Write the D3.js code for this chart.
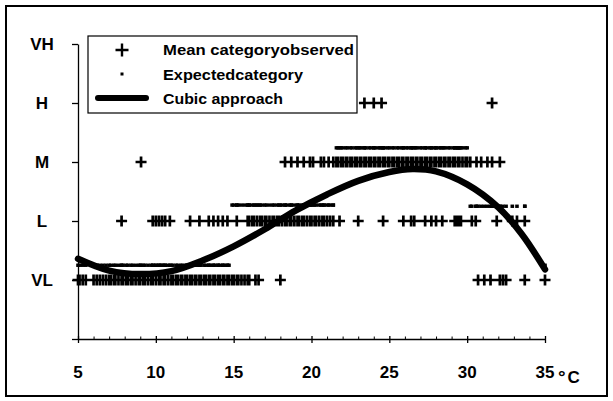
<!DOCTYPE html>
<html><head><meta charset="utf-8">
<script src="https://cdn.jsdelivr.net/npm/d3@7"></script>
<style>body{margin:0;background:#fff} svg{display:block}</style>
</head><body><svg id="c" width="613" height="401"></svg>
<script>
// ---- data ----
const categories = ["VL","L","M","H","VH"];
const categoryValues = [1,2,3,4,5];
const xTicks = [5,10,15,20,25,30,35];
const minorTicks = [6,7,8,9,11,12,13,14,16,17,18,19,21,22,23,24,26,27,28,29,31,32,33,34];

// observed mean category: temperatures per category row
const obsVL = [5.0,5.1,5.3,5.5,6.0,6.2,6.4,6.6,6.8,
  7.0,7.1,7.3,7.4,7.6,7.8,7.9,8.1,8.2,8.4,8.5,8.7,8.9,9.0,9.2,9.3,9.5,9.7,9.8,10.0,10.2,10.3,10.5,10.6,10.8,
  11.0,11.1,11.3,11.4,11.6,11.7,11.9,12.0,12.2,12.3,12.5,12.6,12.8,12.9,13.1,13.2,13.4,13.5,13.7,13.8,
  14.0,14.1,14.3,14.4,14.6,14.7,14.9,15.0,15.2,15.3,15.5,15.7,15.9,16.0,16.4,16.6,18.0,
  30.7,31.1,31.5,32.1,32.3,32.5,33.7,35.0];
const obsL = [7.8,9.8,10.0,10.2,10.4,10.6,10.9,12.2,12.8,13.4,13.7,14.0,14.3,14.6,15.2,
  15.9,16.0,16.2,16.3,16.5,16.7,16.8,17.0,17.1,17.3,17.5,17.6,17.8,17.9,18.1,18.3,18.4,18.6,18.7,18.9,
  19.1,19.2,19.4,19.5,19.7,19.9,20.0,20.2,20.3,20.5,20.7,20.8,21.0,21.2,21.4,
  21.8,23.0,24.6,25.9,26.4,26.6,27.3,27.7,28.0,28.4,29.2,29.3,29.4,29.5,29.6,30.3,30.55,31.9,32.9,33.2,33.7];
const obsM = [9.05,18.3,18.7,19.1,19.5,19.9,20.1,20.6,20.8,21.1,21.4,
  21.6,21.7,21.9,22.0,22.2,22.3,22.5,22.6,22.8,22.9,23.1,23.2,23.4,23.5,23.7,23.8,24.0,24.1,24.3,24.4,
  24.6,24.7,24.9,25.0,25.2,25.3,25.5,25.6,25.8,25.9,26.1,26.2,26.4,26.5,26.7,26.8,27.0,27.1,27.3,27.4,
  27.6,27.7,27.9,28.0,28.2,28.3,28.5,28.6,28.8,28.9,29.1,29.2,29.4,29.5,29.7,29.9,30.0,30.2,
  30.6,30.9,31.3,31.6,32.1];
const obsH = [23.4,24.0,24.5,31.6];

// expected category (drawn per observed temperature)
const expectedBreaks = [14.8, 21.6, 30.1, 33.8];
const expectedLevels = [1.25, 2.27, 3.24, 2.25, 1.25];

// cubic approach
const cubicT = [5, 7, 9, 11, 13, 15, 17, 19, 21, 23, 25, 26.5, 28, 30, 32, 33.5, 35];
const cubicV = [1.36,1.16,1.10,1.15,1.33,1.57,1.86,2.18,2.45,2.68,2.83,2.88,2.84,2.62,2.23,1.78,1.18];

const legendLabels = ["Mean categoryobserved","Expectedcategory","Cubic approach"];

// ---- drawing ----
const font = "'Liberation Sans', Arial, sans-serif";
const svg = d3.select("#c");
const x = d3.scaleLinear().domain([5,35]).range([78,545]);
const y = d3.scaleLinear().domain([0,5]).range([339,44]);

svg.append("rect").attr("x",6).attr("y",6).attr("width",601).attr("height",390)
  .attr("fill","#fff").attr("stroke","#000").attr("stroke-width",2);

// y axis
const gy = svg.append("g").attr("transform",`translate(${x(5)},0)`)
  .call(d3.axisLeft(y).tickValues([0].concat(categoryValues)).tickSize(6).tickSizeOuter(0).tickFormat(""));
gy.selectAll("path,line").attr("stroke","#000").attr("stroke-width",1.3);

svg.append("g").selectAll("text").data(categories).join("text")
  .attr("x",42).attr("y",(d,i)=>y(categoryValues[i])).attr("dy","0.36em")
  .attr("text-anchor","middle").attr("font-family",font).attr("font-weight","bold")
  .attr("font-size",17).text(d=>d);

// x axis
const gx = svg.append("g").attr("transform",`translate(0,${y(0)})`)
  .call(d3.axisBottom(x).tickValues(xTicks).tickSize(4).tickSizeOuter(0).tickFormat(""));
gx.selectAll("path,line").attr("stroke","#000").attr("stroke-width",1.3);
const gxu = svg.append("g").attr("transform",`translate(0,${y(0)})`)
  .call(d3.axisTop(x).tickValues(xTicks).tickSize(3).tickFormat(""));
gxu.select(".domain").remove();
gxu.selectAll("line").attr("stroke","#000").attr("stroke-width",1.3);
const gxm = svg.append("g").attr("transform",`translate(0,${y(0)})`)
  .call(d3.axisTop(x).tickValues(minorTicks).tickSize(2.5).tickFormat(""));
gxm.select(".domain").remove();
gxm.selectAll("line").attr("stroke","#000").attr("stroke-width",1);

svg.append("g").selectAll("text").data(xTicks).join("text")
  .attr("x",d=>x(d)).attr("y",378).attr("text-anchor","middle")
  .attr("font-family",font).attr("font-weight","bold").attr("font-size",17).text(d=>d);
const unit = svg.append("text").attr("x",558).attr("y",383)
  .attr("font-family",font).attr("font-weight","bold").attr("font-size",17);
unit.append("tspan").attr("font-size",19).text("°");
unit.append("tspan").attr("dx",2).text("C");

// expected category dots
const allObs = [].concat(obsVL, obsL, obsM, obsH);
const expLevel = t => expectedLevels[d3.bisectRight(expectedBreaks, t)];
svg.append("g").selectAll("rect").data(allObs).join("rect")
  .attr("x",d=>x(d)-1.8).attr("y",d=>y(expLevel(d))-1.7)
  .attr("width",3.6).attr("height",3.4).attr("fill","#000");

// observed crosses
const rows = [[obsVL,1],[obsL,2],[obsM,3],[obsH,4]];
const pts = [];
rows.forEach(([arr,v]) => arr.forEach(t => pts.push([t,v])));
const cross = (cx,cy,s) => `M${cx-s},${cy}H${cx+s}M${cx},${cy-s}V${cy+s}`;
svg.append("path")
  .attr("d", pts.map(p => cross(x(p[0]), y(p[1]), 5.5)).join(""))
  .attr("stroke","#000").attr("stroke-width",2.7).attr("fill","none");

// cubic curve
const line = d3.line().x((d,i)=>x(cubicT[i])).y(d=>y(d)).curve(d3.curveCatmullRom.alpha(0.5));
svg.append("path").attr("d", line(cubicV)).attr("fill","none").attr("stroke","#000")
  .attr("stroke-width",6.5).attr("stroke-linecap","round").attr("stroke-linejoin","round");

// legend
const lg = svg.append("g");
lg.append("rect").attr("x",88).attr("y",36).attr("width",269).attr("height",77)
  .attr("fill","#fff").attr("stroke","#000").attr("stroke-width",1.2);
lg.append("path").attr("d",cross(122,50,6.5)).attr("stroke","#000").attr("stroke-width",2.4);
lg.append("rect").attr("x",120.5).attr("y",72.5).attr("width",3).attr("height",3).attr("fill","#000");
lg.append("line").attr("x1",98).attr("x2",146).attr("y1",98).attr("y2",98)
  .attr("stroke","#000").attr("stroke-width",6).attr("stroke-linecap","round");
const lw = [191,140,120];
lg.selectAll("text").data(legendLabels).join("text")
  .attr("x",163).attr("y",(d,i)=>55+i*24.5)
  .attr("font-family",font).attr("font-weight","bold").attr("font-size",15)
  .attr("textLength",(d,i)=>lw[i]).attr("lengthAdjust","spacingAndGlyphs").text(d=>d);
</script></body></html>
